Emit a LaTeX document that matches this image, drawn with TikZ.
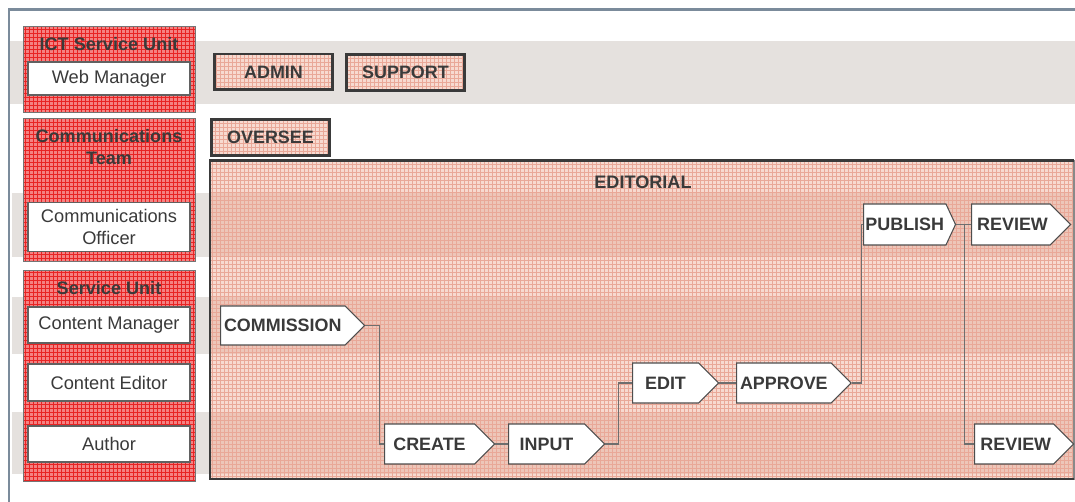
\documentclass[tikz,border=0pt]{standalone}
\usepackage{fontspec}
\setmainfont{Liberation Sans}
\usetikzlibrary{shapes.symbols}

\definecolor{framegray}{HTML}{7B8B9B}
\definecolor{bandgray}{HTML}{E5E1DE}
\definecolor{unitred}{HTML}{F48282}
\definecolor{unitgrid}{HTML}{E82424}
\definecolor{editpink}{HTML}{F7DAD0}
\definecolor{editstripe}{HTML}{EDC6B9}
\definecolor{editgrid}{HTML}{E9A898}
\definecolor{textdark}{HTML}{3A3A3A}
\definecolor{connline}{HTML}{6E6E6E}

\tikzset{
  gridded/.style={path picture={\draw[#1,line width=0.4pt,step=0.08cm] (path picture bounding box.south west) grid (path picture bounding box.north east);}},
  unitbox/.style={draw=textdark!70,line width=0.5pt,fill=unitred,gridded=unitgrid,anchor=north west,minimum width=3.44cm,inner sep=0pt},
  unithead/.style={text=textdark,font=\fontsize{10.3}{12}\selectfont\bfseries,align=center,inner sep=0pt},
  rolebox/.style={draw=textdark!80,line width=0.6pt,fill=white,minimum width=3.24cm,text=textdark,font=\fontsize{10.4}{12.5}\selectfont,align=center,inner sep=0pt},
  taskbox/.style={draw=textdark,line width=1.7pt,fill=editpink,gridded=editgrid,minimum width=2.36cm,minimum height=0.72cm,text=textdark,font=\fontsize{10.2}{12}\selectfont\bfseries,inner sep=0pt},
  stepbox/.style={shape=signal,signal to=east,draw=textdark!90,line width=0.6pt,fill=white,anchor=west,minimum height=0.8cm,text=textdark,font=\fontsize{10.2}{12}\selectfont\bfseries,inner xsep=2pt,inner ysep=2pt},
  conn/.style={draw=connline,line width=0.6pt}
}

\begin{document}
\begin{tikzpicture}[x=0.02cm,y=-0.02cm]
\useasboundingbox (0,0) rectangle (1075,502);

% lanes
\fill[bandgray] (10,41) rectangle (1075,104);
\fill[bandgray] (12,193) rectangle (1075,257);
\fill[bandgray] (12,297) rectangle (1075,354);
\fill[bandgray] (12,412) rectangle (1075,474);
\draw[framegray,line width=1.7pt] (9,502) -- (9,10) -- (1075,10);

% editorial area
\fill[editpink] (210,160) rectangle (1074,480);
\fill[editstripe] (210,193) rectangle (1074,257);
\fill[editstripe] (210,297) rectangle (1074,354);
\fill[editstripe] (210,412) rectangle (1074,474);
\begin{scope}
\clip (210,160) rectangle (1074,480);
\draw[editgrid,line width=0.25pt,step=0.08cm] (210,160) grid (1074,480);
\end{scope}
\draw[textdark!60,line width=0.6pt] (1074,160) -- (1074,480);
\draw[textdark,line width=1.7pt] (1074,161) -- (210,161) -- (210,479) -- (1074,479);
\node[unithead] (editorial) at (643,182) {EDITORIAL};

% units
\node[unitbox,minimum height=1.72cm] (ict) at (23,26) {};
\node[unithead] (icthead) at (109,44) {ICT Service Unit};
\node[unitbox,minimum height=2.86cm] (comms) at (23,118) {};
\node[unithead] (commshead) at (109,147) {Communications\\Team};
\node[unitbox,minimum height=4.22cm] (service) at (23,270) {};
\node[unithead] (servicehead) at (109,288) {Service Unit};

% roles
\node[rolebox,minimum height=0.66cm] (webman) at (109,78.5) {Web Manager};
\node[rolebox,minimum height=0.98cm] (officer) at (109,227) {Communications\\Officer};
\node[rolebox,minimum height=0.72cm] (contman) at (109,325) {Content Manager};
\node[rolebox,minimum height=0.74cm] (conted) at (109,382.5) {Content Editor};
\node[rolebox,minimum height=0.72cm] (author) at (109,444) {Author};

% tasks
\node[taskbox] (admin) at (273.5,72) {ADMIN};
\node[taskbox] (support) at (405.5,72.5) {SUPPORT};
\node[taskbox] (oversee) at (270.5,137.5) {OVERSEE};

% workflow
\node[stepbox,minimum width=2.76cm,minimum height=0.78cm] (commission) at (220,325.5) {COMMISSION};
\node[stepbox,minimum width=2.2cm] (create) at (384,444) {CREATE};
\node[stepbox,minimum width=1.92cm] (input) at (508,444) {INPUT};
\node[stepbox,minimum width=1.72cm] (edit) at (632,383) {EDIT};
\node[stepbox,minimum width=2.12cm] (approve) at (736,383) {APPROVE};
\node[stepbox,signal pointer angle=130,inner xsep=1pt,minimum width=1.84cm,minimum height=0.82cm] (publish) at (863,224.5) {PUBLISH};
\node[stepbox,inner xsep=1pt,minimum width=1.98cm,minimum height=0.82cm] (reviewtop) at (971,224.5) {\hspace{2pt}REVIEW};
\node[stepbox,inner xsep=1pt,minimum width=1.98cm] (reviewbot) at (974,444) {\hspace{2pt}REVIEW};

\draw[conn] (commission.east) -- ++(14,0) |- (create.west);
\draw[conn] (create.east) -- (input.west);
\draw[conn] (input.east) -- ++(13,0) |- (edit.west);
\draw[conn] (edit.east) -- (approve.west);
\draw[conn] (approve.east) -- ++(10,0) |- (publish.west);
\draw[conn] (publish.east) -- ++(8,0) coordinate (split) |- (reviewtop.west);
\draw[conn] (split) |- (reviewbot.west);
\end{tikzpicture}
\end{document}
